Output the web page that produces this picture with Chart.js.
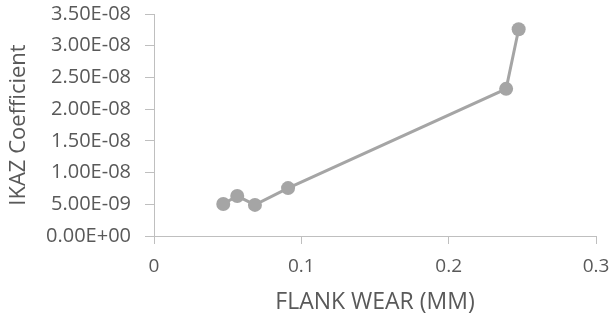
<!DOCTYPE html>
<html>
<head>
<meta charset="utf-8">
<script src="https://cdn.jsdelivr.net/npm/chart.js@4/dist/chart.umd.min.js"></script>
<style>
  html, body { margin: 0; padding: 0; background: #fff; }
  #wrap { width: 611px; height: 320px; }
</style>
</head>
<body>
<div id="wrap"><canvas id="chart"></canvas></div>
<script>
// flank wear (mm) vs IKAZ coefficient
var flankWear = [0.047, 0.0565, 0.0685, 0.091, 0.239, 0.2475];
var ikazCoeff = [5.05e-9, 6.3e-9, 4.9e-9, 7.55e-9, 2.32e-8, 3.26e-8];
var xTicks = [0, 0.1, 0.2, 0.3];

var points = flankWear.map(function (x, i) {
    return { x: x, y: ikazCoeff[i] };
});

// Excel-style scientific labels, e.g. 3.50E-08
var sciLabel = function (v) {
    var s = Number(v).toExponential(2).toUpperCase();
    var parts = s.split('E');
    var exp = parseInt(parts[1], 10);
    var sign = exp < 0 ? '-' : '+';
    var digits = String(Math.abs(exp));
    if (digits.length < 2) digits = '0' + digits;
    return parts[0] + 'E' + sign + digits;
};

var axisGray = '#bfbfbf';
var textGray = '#595959';
var fontName = 'Open Sans';

new Chart(document.getElementById('chart'), {
    type: 'scatter',
    data: {
        datasets: [{
            data: points,
            showLine: true,
            borderColor: '#a5a5a5',
            backgroundColor: '#a5a5a5',
            borderWidth: 3,
            pointRadius: 7,
            pointHoverRadius: 7,
            pointBorderWidth: 0
        }]
    },
    options: {
        responsive: true,
        maintainAspectRatio: false,
        animation: false,
        layout: { padding: { left: 0, right: 15, top: 14, bottom: 0 } },
        plugins: {
            legend: { display: false },
            tooltip: { enabled: false }
        },
        scales: {
            x: {
                type: 'linear',
                min: 0,
                max: 0.3,
                afterBuildTicks: function (axis) {
                    axis.ticks = xTicks.map(function (v) { return { value: v }; });
                },
                afterFit: function (axis) {
                    axis.height = 84;
                    axis.paddingRight = 0;
                },
                grid: { drawOnChartArea: false, drawTicks: true, tickLength: 8, color: axisGray },
                border: { color: axisGray, width: 1 },
                ticks: {
                    color: textGray,
                    font: { family: fontName, size: 19 },
                    padding: 11,
                    maxRotation: 0
                },
                title: {
                    display: true,
                    text: 'FLANK WEAR (MM)',
                    color: textGray,
                    font: { family: fontName, size: 23 },
                    padding: { top: 4, bottom: 4 }
                }
            },
            y: {
                min: 0,
                max: 3.5e-8,
                afterFit: function (axis) {
                    axis.width = 154;
                    axis.paddingTop = 0;
                },
                ticks: {
                    stepSize: 5e-9,
                    color: textGray,
                    font: { family: fontName, size: 20 },
                    padding: 14,
                    callback: function (v) { return sciLabel(v); }
                },
                grid: { drawOnChartArea: false, drawTicks: true, tickLength: 9, color: axisGray },
                border: { color: axisGray, width: 1 },
                title: {
                    display: true,
                    text: 'IKAZ Coefficient',
                    color: textGray,
                    font: { family: fontName, size: 22 },
                    padding: { top: 6, bottom: 4 }
                }
            }
        }
    }
});
</script>
</body>
</html>
